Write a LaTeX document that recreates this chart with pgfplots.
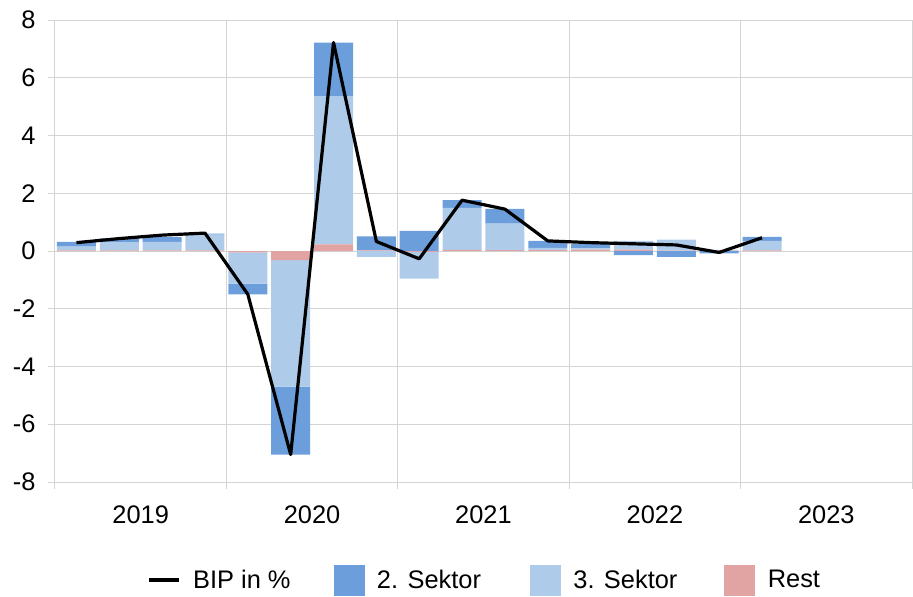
\documentclass[border=0pt]{standalone}
\usepackage{pgfplots}
\pgfplotsset{compat=1.18}
\usepackage{pgfplotstable}
\usepackage{fontspec}
\setmainfont{Liberation Sans}
\definecolor{cA}{RGB}{108,158,220}
\definecolor{cB}{RGB}{174,203,233}
\definecolor{cR}{RGB}{226,163,163}
\definecolor{gridc}{RGB}{212,212,212}

\pgfplotstableread{
x bip s2 s3 rest
0 0.29 0.17 0.13 0.02
1 0.43 0.13 0.29 0.02
2 0.55 0.16 0.30 0.02
3 0.62 0.03 0.55 0.02
4 -1.50 -0.37 -1.08 -0.05
5 -7.05 -2.35 -4.38 -0.32
6 7.22 1.86 5.13 0.23
7 0.33 0.49 -0.20 0.02
8 -0.27 0.70 -0.93 -0.03
9 1.76 0.27 1.45 0.04
10 1.45 0.51 0.92 0.03
11 0.35 0.24 0.08 0.03
12 0.29 0.16 0.04 0.05
13 0.25 -0.14 0.30 0.05
14 0.21 -0.20 0.38 0.01
15 -0.05 -0.08 0.03 0.01
16 0.46 0.14 0.33 0.02
}\data

\pgfplotsset{
  base/.style={scale only axis, width=857bp, height=462bp,
    xmin=-0.5, xmax=19.5, ymin=-8, ymax=8, at={(0bp,0bp)}, anchor=south west},
  hid/.style={base, hide axis},
}
\newcommand{\lf}{\fontsize{25.5}{30}\selectfont}

\begin{document}
\begin{tikzpicture}
% axis A: grid, ticks, positive stacks
\begin{axis}[base, ybar stacked, bar width=0.91,
  axis line style={draw=gridc, line width=1bp},
  xtick={-0.5,3.5,7.5,11.5,15.5,19.5}, xticklabels={},
  extra x ticks={1.5,5.5,9.5,13.5,17.5},
  extra x tick labels={2019,2020,2021,2022,2023},
  extra x tick style={major tick length=0pt, grid=none},
  ytick={-8,-6,...,8}, yticklabels={-8,-6,-4,-2,0,2,4,6,8},
  xmajorgrids, ymajorgrids,
  major grid style={draw=gridc, line width=1bp},
  tick style={draw=gridc, line width=1bp},
  tick align=outside, xtick pos=left, ytick pos=left,
  x tick label style={font=\lf, yshift=-20bp},
  y tick label style={font=\lf, xshift=-9bp},
  major tick length=7bp,
]
\addplot[fill=cR, draw=none] table[x=x, y expr={max(\thisrow{rest},0)}] {\data};
\addplot[fill=cB, draw=none] table[x=x, y expr={max(\thisrow{s3},0)}] {\data};
\addplot[fill=cA, draw=none] table[x=x, y expr={max(\thisrow{s2},0)}] {\data};
\end{axis}
% axis B: negative stacks
\begin{axis}[hid, ybar stacked, bar width=0.91]
\addplot[fill=cR, draw=none] table[x=x, y expr={min(\thisrow{rest},0)}] {\data};
\addplot[fill=cB, draw=none] table[x=x, y expr={min(\thisrow{s3},0)}] {\data};
\addplot[fill=cA, draw=none] table[x=x, y expr={min(\thisrow{s2},0)}] {\data};
\end{axis}
% axis C: line and legend
\begin{axis}[hid,
  legend style={at={(0.5,-0.2121)}, anchor=center, draw=none, fill=none,
    font=\lf, legend columns=4,
    nodes={inner sep=0pt, anchor=west},
    /tikz/every odd column/.append style={column sep=13bp},
    /tikz/column 2/.append style={column sep=43bp},
    /tikz/column 4/.append style={column sep=49bp},
    /tikz/column 6/.append style={column sep=47bp}},
]
\addplot[black, line width=3.2bp, sharp plot, line join=round,
  legend image code/.code={\draw[black, line width=3.2bp] (0bp,0bp) -- (30bp,0bp);}]
  table[x=x, y=bip] {\data};
\addlegendentry{BIP in \%}
\addlegendimage{legend image code/.code={\fill[cA] (0bp,-15bp) rectangle (30bp,15bp);}}
\addlegendentry{2. Sektor}
\addlegendimage{legend image code/.code={\fill[cB] (0bp,-15bp) rectangle (30bp,15bp);}}
\addlegendentry{3. Sektor}
\addlegendimage{legend image code/.code={\fill[cR] (0bp,-15bp) rectangle (30bp,15bp);}}
\addlegendentry{Rest}
\end{axis}
\pgfresetboundingbox
\path[use as bounding box] (-55bp,-115bp) rectangle (858bp,482bp);
\end{tikzpicture}
\end{document}
